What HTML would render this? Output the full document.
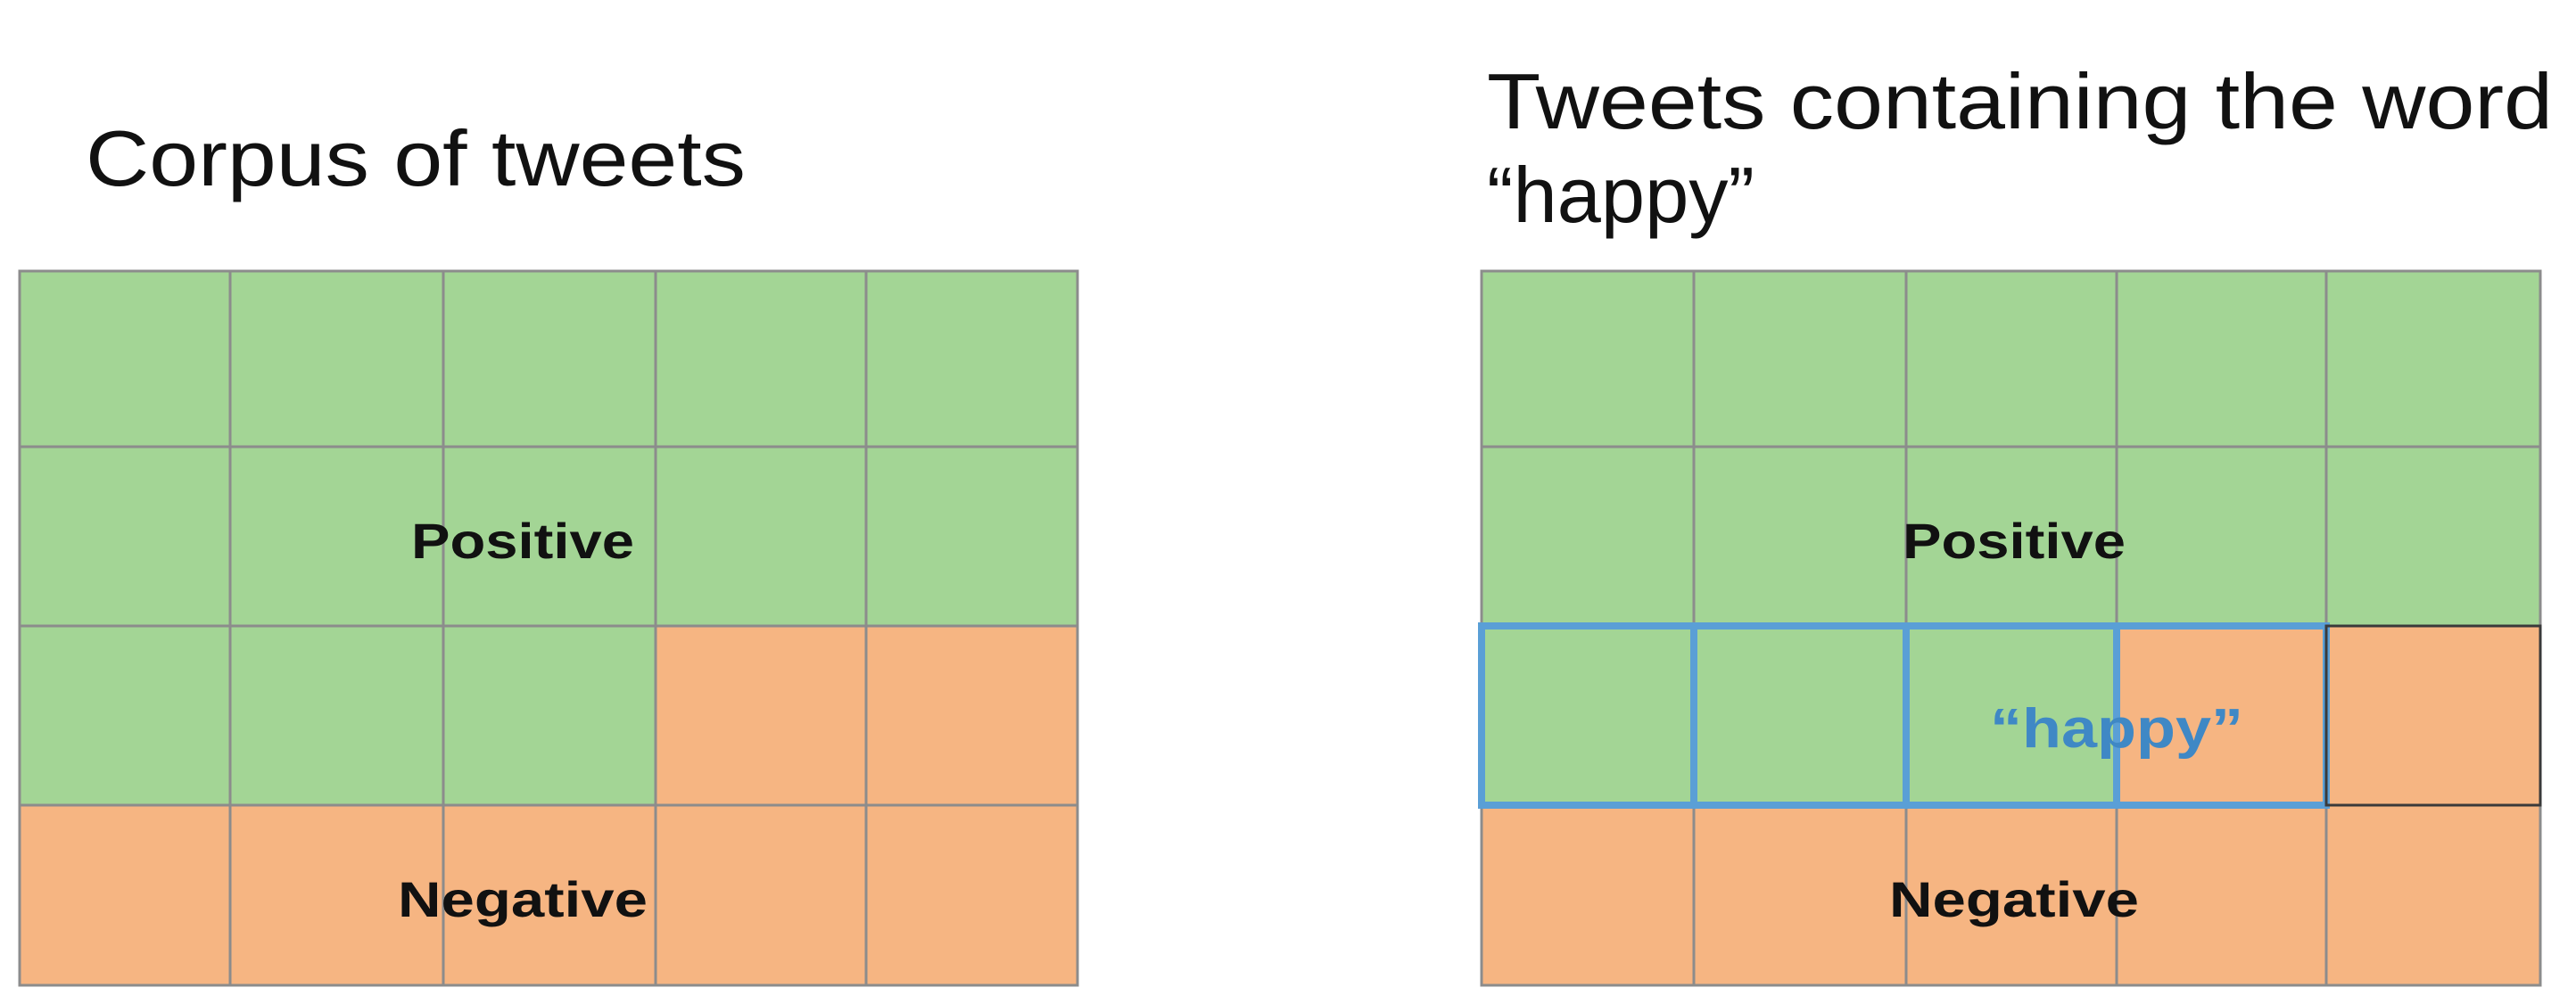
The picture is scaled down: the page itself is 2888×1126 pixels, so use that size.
<!DOCTYPE html>
<html><head><meta charset="utf-8"><style>
html,body{margin:0;padding:0;background:#fff;width:2888px;height:1126px;overflow:hidden}
svg{display:block}
text{font-family:"Liberation Sans",sans-serif}
</style></head><body>
<svg id="chart" width="2888" height="1126" viewBox="0 0 2888 1126">
<text x="96" y="208" font-size="88" fill="#111" textLength="740" lengthAdjust="spacingAndGlyphs">Corpus of tweets</text>
<text x="1667" y="144" font-size="88" fill="#111" textLength="1195" lengthAdjust="spacingAndGlyphs">Tweets containing the word</text>
<text x="1667" y="249" font-size="88" fill="#111" textLength="300" lengthAdjust="spacingAndGlyphs">“happy”</text>
<g id="left"></g><g id="right"></g><g id="overlay"></g>
</svg>
<script>
// each grid: 4 rows x 5 cols; 1 = positive, 0 = negative
const leftCells = [1,1,1,1,1, 1,1,1,1,1, 1,1,1,0,0, 0,0,0,0,0];
const rightCells = [1,1,1,1,1, 1,1,1,1,1, 1,1,1,0,0, 0,0,0,0,0];
const happyRow = [1,1,1,1,0]; // cells in row 3 containing "happy"
const colEdgesL = [22,258,497,735,971,1208];
const colEdgesR = [1661,1899,2137,2373,2608,2848];
const rowEdges = [304,501,702,903,1105];
const NS = "http://www.w3.org/2000/svg";
function mk(tag, attrs, parent){const e=document.createElementNS(NS,tag);for(const k in attrs)e.setAttribute(k,attrs[k]);parent.appendChild(e);return e;}
function drawGrid(g, cells, cols, side, cx){
  cells.forEach((v,i)=>{
    const r=Math.floor(i/5), c=i%5;
    const el=mk('rect',{x:cols[c],y:rowEdges[r],width:cols[c+1]-cols[c],height:rowEdges[r+1]-rowEdges[r],fill:v?'#a3d595':'#f6b582',stroke:'#8c8c8c','stroke-width':3},g);
    
    
  });
  const p=mk('text',{x:cx,y:626,'font-size':56,'font-weight':'bold','text-anchor':'middle',fill:'#111',textLength:250,lengthAdjust:'spacingAndGlyphs'},g);
  p.textContent='Positive';
  
  
  const n=mk('text',{x:cx,y:1028,'font-size':56,'font-weight':'bold','text-anchor':'middle',fill:'#111',textLength:280,lengthAdjust:'spacingAndGlyphs'},g);
  n.textContent='Negative';
  
  
}
drawGrid(document.getElementById('left'), leftCells, colEdgesL, 'left', 586);
drawGrid(document.getElementById('right'), rightCells, colEdgesR, 'right', 2258);
const ov=document.getElementById('overlay');
happyRow.forEach((v,c)=>{
  const el=mk('rect',{x:colEdgesR[c],y:rowEdges[2],width:colEdgesR[c+1]-colEdgesR[c],height:rowEdges[3]-rowEdges[2],fill:'none',stroke:v?'#5a9fd6':'#3a3a3a','stroke-width':v?8:3},ov);
  
  
});
const h=mk('text',{x:2373,y:838,'font-size':62,'font-weight':'bold','text-anchor':'middle',fill:'#3f88c5',textLength:284,lengthAdjust:'spacingAndGlyphs'},ov);
h.textContent='“happy”';


</script>
</body></html>
